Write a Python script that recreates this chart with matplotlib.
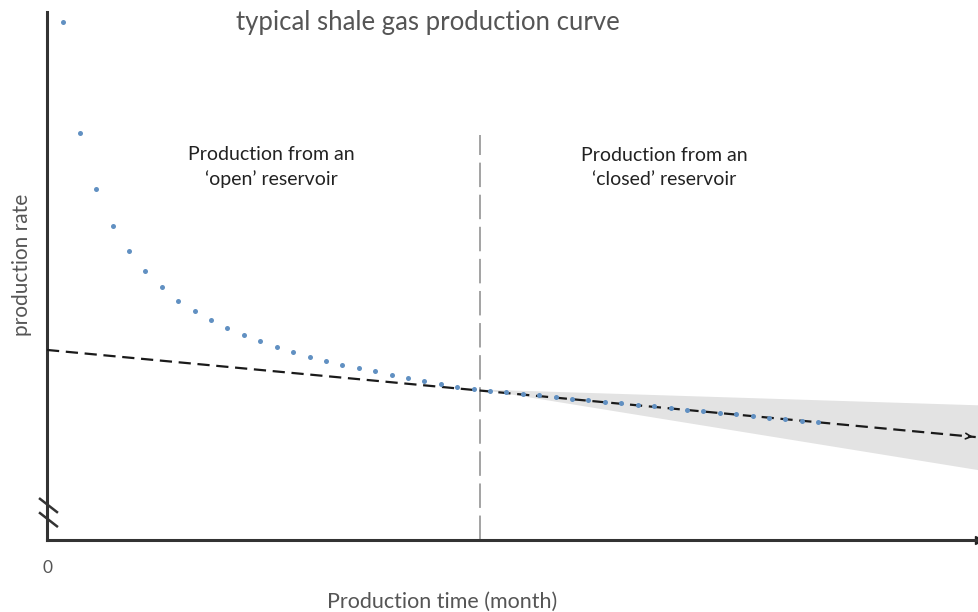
import matplotlib
matplotlib.use("Agg")
import matplotlib.pyplot as plt

# production rate per month (arbitrary units)
months = list(range(1, 48))
rate = [98.1, 77.1, 66.5, 59.5, 54.7, 50.9, 47.9, 45.3, 43.4, 41.7,
        40.2, 38.8, 37.7, 36.6, 35.6, 34.7, 33.9, 33.1, 32.6, 32.0,
        31.3, 30.7, 30.1, 29.5, 29.0, 28.6, 28.3, 28.0, 27.7, 27.4,
        27.1, 26.8, 26.5, 26.2, 25.9, 25.6, 25.3, 25.0, 24.7, 24.4,
        24.1, 23.8, 23.5, 23.2, 22.9, 22.6, 22.3]

trend_x = [0, 56.6]
trend_y = [36.0, 19.5]

band_x = [26.4, 56.8]
band_hi = [28.6, 25.6]
band_lo = [28.6, 13.3]

switch_month = 26.4
switch_top = 76.7

X_MAX, Y_MAX = 56.8, 100

plt.rcParams["font.family"] = ["Lato", "DejaVu Sans"]

fig = plt.figure(figsize=(9.79, 6.12), dpi=100)
ax = fig.add_axes([0.048, 0.1176, 0.952, 0.8628])

ax.fill_between(band_x, band_lo, band_hi, color="#e3e3e3", lw=0, zorder=1)
ax.plot([switch_month, switch_month], [0, switch_top], color="#8a8a8a",
        lw=1.1, dashes=(16, 5), zorder=2)
ax.plot(trend_x, trend_y, color="#1a1a1a", lw=1.6, dashes=(5.5, 3), zorder=3)
ax.annotate("", xy=(trend_x[1], trend_y[1]),
            xytext=(trend_x[1] - 0.6, trend_y[1] + 0.18),
            arrowprops=dict(arrowstyle="->", color="#1a1a1a", lw=1.2))
ax.plot(months, rate, "o", color="#6190c2", ms=3.6, mec="none", zorder=4)

ax.set_xlim(0, X_MAX)
ax.set_ylim(0, Y_MAX)
for s in ("top", "right"):
    ax.spines[s].set_visible(False)
for s in ("left", "bottom"):
    ax.spines[s].set_color("#333333")
    ax.spines[s].set_linewidth(2.2)
ax.set_xticks([])
ax.set_yticks([])
ax.plot([X_MAX], [0], ">", color="#222222", ms=6, clip_on=False)

# axis break marks
for y0, y1 in ((0.078, 0.053), (0.051, 0.026)):
    ax.plot([-0.0075, 0.0107], [y0, y1], color="#333333",
            lw=1.8, transform=ax.transAxes, clip_on=False)

ax.text(0.001, -0.053, "0", ha="center", va="center", fontsize=12.5,
        color="#555555", transform=ax.transAxes)
ax.text(0.424, -0.117, "Production time (month)", ha="center", va="center",
        fontsize=15.5, color="#555555", transform=ax.transAxes)
fig.text(0.0225, 0.567, "production rate", ha="center", va="center",
         rotation=90, fontsize=15, color="#555555")
fig.text(0.437, 0.964, "typical shale gas production curve", ha="center",
         va="center", fontsize=18.5, color="#555555")

ax.text(13.65, 70.6, "Production from an\n\u2018open\u2019 reservoir",
        ha="center", va="center", fontsize=14, color="#222222",
        linespacing=1.5)
ax.text(37.6, 70.6, "Production from an\n\u2018closed\u2019 reservoir",
        ha="center", va="center", fontsize=14, color="#222222",
        linespacing=1.5)

fig.savefig("out.png", dpi=100)
